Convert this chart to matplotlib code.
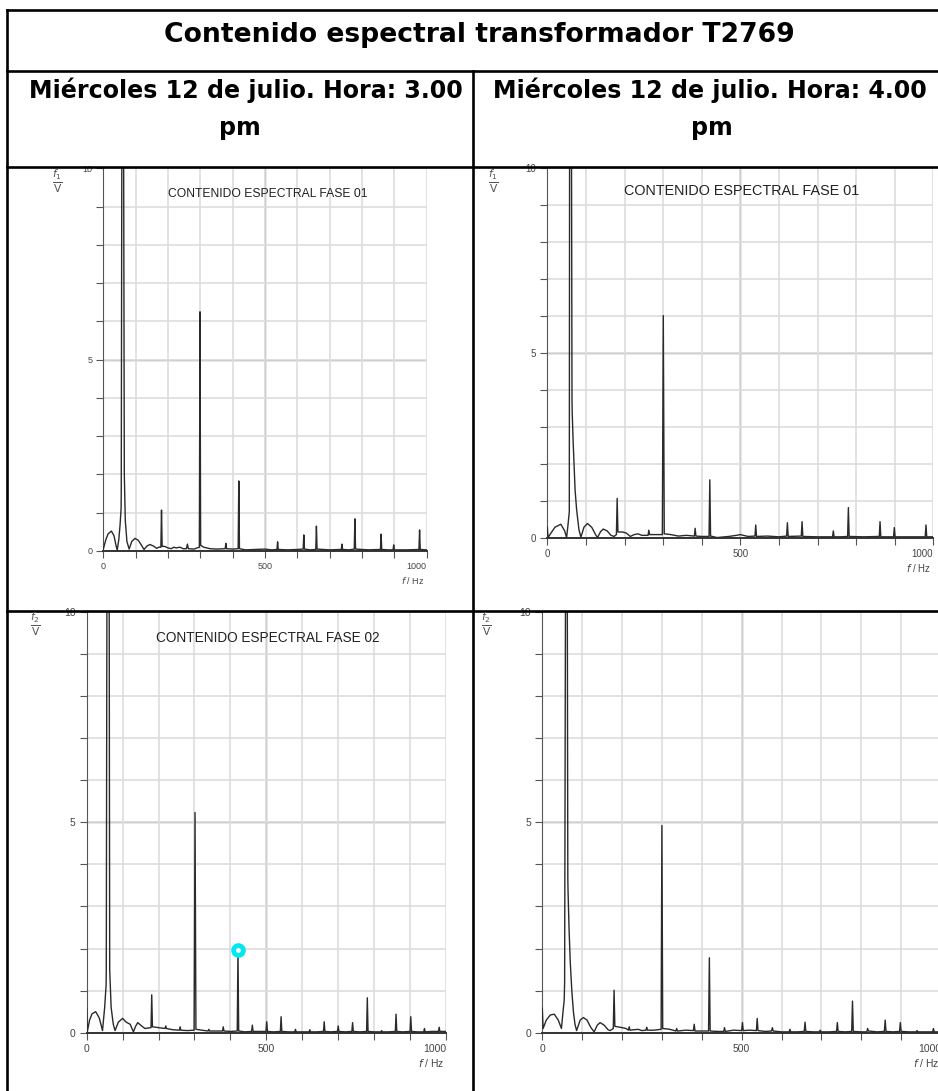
import matplotlib
matplotlib.use('Agg')
import matplotlib.pyplot as plt

#---------------------------------------------------------------------
# Contenido espectral T2769, tabla 2x2 de espectros (Fase 01 / Fase 02)
#---------------------------------------------------------------------

W, H = 938, 1091

titulo = 'Contenido espectral transformador T2769'
encabezados = ['Miércoles 12 de julio. Hora: 3.00', 'Miércoles 12 de julio. Hora: 4.00']
titulos_graf = ['CONTENIDO ESPECTRAL FASE 01', 'CONTENIDO ESPECTRAL FASE 01',
                'CONTENIDO ESPECTRAL FASE 02', '']
etiquetas_y = [r'$\frac{f_1}{\mathrm{V}}$', r'$\frac{f_1}{\mathrm{V}}$',
               r'$\frac{f_2}{\mathrm{V}}$', r'$\frac{f_2}{\mathrm{V}}$']

x_ticks = list(range(0, 1001, 100))
x_ticklabels = ['0', '', '', '', '', '500', '', '', '', '', '1000']
y_ticks = list(range(0, 11))
y_ticklabels = ['0', '', '', '', '', '5', '', '', '', '', '10']

### espectros: (f / Hz, amplitud / V)
fase01_3pm = [(0, 0.05), (8, 0.3), (15, 0.45), (25, 0.52), (33, 0.4), (40, 0.12), (43, 0.02),
              (48, 0.3), (52, 0.7), (55, 1.1), (55.5, 1.5), (58, 14), (62, 14), (65, 2.0),
              (68, 0.8), (73, 0.25), (80, 0.05), (88, 0.25), (98, 0.33), (108, 0.28),
              (118, 0.15), (126, 0.04), (135, 0.13), (144, 0.17), (155, 0.13), (165, 0.07),
              (172, 0.1), (178, 0.1), (180, 1.07), (182, 0.12), (190, 0.12), (200, 0.08),
              (210, 0.06), (218, 0.1), (225, 0.08), (237, 0.1), (247, 0.06), (257, 0.06),
              (260, 0.18), (263, 0.06), (280, 0.05), (297, 0.1), (299, 6.25), (301, 0.15),
              (310, 0.1), (330, 0.06), (350, 0.05), (377, 0.06), (379, 0.2), (381, 0.06),
              (400, 0.05), (417, 0.06), (419, 1.83), (421, 0.06), (440, 0.03), (470, 0.04),
              (500, 0.05), (520, 0.03), (537, 0.04), (539, 0.24), (541, 0.04), (570, 0.03),
              (600, 0.04), (618, 0.05), (620, 0.42), (622, 0.05), (640, 0.03), (657, 0.04),
              (659, 0.65), (661, 0.05), (700, 0.03), (736, 0.04), (738, 0.18), (740, 0.04),
              (760, 0.03), (776, 0.05), (778, 0.84), (780, 0.05), (820, 0.03), (857, 0.04),
              (859, 0.44), (861, 0.04), (880, 0.03), (896, 0.03), (898, 0.16), (900, 0.03),
              (940, 0.03), (976, 0.04), (978, 0.55), (980, 0.04), (1000, 0.03)]

fase01_4pm = [(0, 0.3), (2, 0.02), (10, 0.15), (20, 0.3), (35, 0.38), (45, 0.2), (50, 0.02),
              (54, 0.4), (57, 0.72), (58, 14), (62, 14), (64, 3.75), (64.5, 3.4), (67, 2.6),
              (72, 1.3), (76, 0.77), (82, 0.23), (87, 0.03), (95, 0.3), (104, 0.4), (115, 0.3),
              (125, 0.1), (130, 0.02), (138, 0.18), (145, 0.25), (155, 0.2), (165, 0.08),
              (173, 0.05), (179, 0.1), (181, 1.08), (183, 0.17), (195, 0.17), (205, 0.14),
              (215, 0.05), (225, 0.1), (235, 0.12), (245, 0.08), (261, 0.08), (263, 0.22),
              (265, 0.1), (280, 0.1), (298, 0.1), (300.5, 6.02), (303, 0.12), (320, 0.1),
              (340, 0.06), (360, 0.08), (381, 0.06), (383, 0.27), (385, 0.06), (400, 0.05),
              (419, 0.05), (421, 1.58), (423, 0.06), (440, 0.02), (470, 0.05), (490, 0.08),
              (500, 0.1), (520, 0.05), (538, 0.06), (540, 0.36), (542, 0.05), (570, 0.06),
              (600, 0.04), (620, 0.06), (622, 0.42), (624, 0.05), (658, 0.06), (660, 0.45),
              (662, 0.05), (700, 0.04), (739, 0.04), (741, 0.2), (743, 0.04), (760, 0.04),
              (778, 0.05), (780, 0.83), (782, 0.05), (820, 0.04), (860, 0.05), (862, 0.45),
              (864, 0.04), (897, 0.04), (899, 0.29), (901, 0.04), (940, 0.04), (979, 0.04),
              (981, 0.36), (983, 0.04), (1000, 0.04)]

fase02_3pm = [(0, 0.58), (1.5, 0.02), (8, 0.3), (15, 0.45), (25, 0.5), (35, 0.35), (44, 0.05),
              (50, 0.6), (54, 1.13), (54.5, 1.5), (57, 14), (62, 14), (64, 1.5), (68, 0.6),
              (74, 0.2), (79, 0.05), (88, 0.25), (100, 0.34), (110, 0.25), (121, 0.2),
              (130, 0.02), (136, 0.15), (142, 0.24), (150, 0.18), (162, 0.1), (179, 0.12),
              (181, 0.9), (183, 0.14), (200, 0.12), (218, 0.1), (220, 0.16), (222, 0.1),
              (240, 0.07), (258, 0.06), (260, 0.14), (262, 0.06), (280, 0.05), (299, 0.06),
              (301.5, 5.23), (304, 0.08), (320, 0.06), (338, 0.04), (340, 0.08), (342, 0.04),
              (360, 0.04), (378, 0.04), (380, 0.14), (382, 0.04), (400, 0.03), (419, 0.04),
              (421, 1.96), (423, 0.04), (440, 0.02), (459, 0.03), (461, 0.18), (463, 0.03),
              (480, 0.03), (499, 0.03), (501, 0.26), (503, 0.03), (520, 0.02), (539, 0.03),
              (541, 0.38), (543, 0.03), (560, 0.02), (579, 0.02), (581, 0.08), (583, 0.02),
              (600, 0.02), (619, 0.02), (621, 0.07), (623, 0.02), (640, 0.02), (659, 0.03),
              (661, 0.26), (663, 0.03), (680, 0.02), (698, 0.03), (700, 0.16), (702, 0.03),
              (720, 0.02), (738, 0.03), (740, 0.24), (742, 0.03), (760, 0.02), (779, 0.03),
              (781, 0.83), (783, 0.03), (800, 0.02), (819, 0.02), (821, 0.05), (823, 0.02),
              (840, 0.02), (859, 0.03), (861, 0.44), (863, 0.03), (880, 0.02), (900, 0.03),
              (902, 0.38), (904, 0.03), (920, 0.02), (938, 0.02), (940, 0.1), (942, 0.02),
              (960, 0.03), (979, 0.03), (981, 0.13), (983, 0.03), (1000, 0.03)]

fase02_4pm = [(0, 0.58), (2, 0.1), (10, 0.3), (20, 0.42), (30, 0.44), (40, 0.3), (48, 0.1),
              (52, 0.5), (55, 0.78), (56, 1.2), (59, 14), (62, 14), (64, 3.67), (64.5, 3.39),
              (67, 2.5), (70, 1.7), (74, 1.0), (78, 0.5), (82, 0.2), (86, 0.05), (95, 0.3),
              (103, 0.36), (112, 0.3), (122, 0.12), (130, 0.02), (138, 0.18), (145, 0.24),
              (155, 0.18), (165, 0.07), (170, 0.05), (178, 0.1), (180, 1.01), (182, 0.15),
              (195, 0.13), (210, 0.1), (216, 0.06), (218, 0.14), (220, 0.06), (240, 0.08),
              (250, 0.05), (260, 0.06), (262, 0.13), (264, 0.06), (280, 0.06), (298, 0.08),
              (300, 4.92), (302, 0.1), (320, 0.08), (335, 0.04), (337, 0.1), (339, 0.04),
              (360, 0.06), (379, 0.05), (381, 0.2), (383, 0.04), (400, 0.04), (417, 0.04),
              (419, 1.78), (421, 0.04), (440, 0.03), (455, 0.03), (457, 0.12), (459, 0.03),
              (480, 0.06), (500, 0.05), (502, 0.24), (504, 0.05), (520, 0.06), (537, 0.05),
              (539, 0.34), (541, 0.05), (560, 0.03), (575, 0.04), (577, 0.12), (579, 0.04),
              (600, 0.02), (619, 0.02), (621, 0.08), (623, 0.02), (640, 0.02), (657, 0.03),
              (659, 0.25), (661, 0.03), (680, 0.02), (695, 0.02), (697, 0.06), (699, 0.02),
              (720, 0.02), (738, 0.03), (740, 0.24), (742, 0.03), (760, 0.02), (776, 0.03),
              (778, 0.75), (780, 0.03), (800, 0.02), (814, 0.02), (816, 0.1), (818, 0.04),
              (840, 0.02), (858, 0.03), (860, 0.3), (862, 0.03), (880, 0.02), (896, 0.03),
              (898, 0.24), (900, 0.03), (920, 0.02), (938, 0.02), (940, 0.05), (942, 0.02),
              (960, 0.02), (979, 0.02), (981, 0.1), (983, 0.02), (1000, 0.02)]

espectros = [fase01_3pm, fase01_4pm, fase02_3pm, fase02_4pm]

# punto marcado (cian) en fase 02, 3 pm
marca_hz, marca_v = 421, 1.96

plt.rcParams['font.family'] = ['Liberation Sans', 'DejaVu Sans']

### cajas en pixeles: x(0 Hz), x(1000 Hz), y(10 V), y(0 V)
cajas = [(103.3, 426.7, 168.3, 551.0),
         (547.3, 933.3, 168.3, 538.3),
         (86.7, 446.0, 611.7, 1032.7),
         (542.3, 941.0, 611.7, 1032.7)]
pos_titulo = [(268, 194, 8.7), (742, 191, 10.4), (268, 638, 9.8), (0, 0, 9)]
pos_ylab = [(57, 181), (493, 181), (35, 624), (486, 624)]
tam_ticks = [6.5, 7, 7.5, 7.5]

fig = plt.figure(figsize=(W / 100, H / 100), dpi=100, facecolor='white')


def fx(x): return x / W


def fy(y): return 1 - y / H


for i, datos in enumerate(espectros):
    x0, x1, ytop, ybot = cajas[i]
    ax = fig.add_axes([fx(x0), fy(ybot), fx(x1) - fx(x0), fy(ytop) - fy(ybot)])
    ax.set_xlim(0, 1000)
    ax.set_ylim(0, 10)
    ax.set_xticks(x_ticks)
    ax.set_xticklabels(x_ticklabels)
    ax.set_yticks(y_ticks)
    ax.set_yticklabels(y_ticklabels)
    ax.get_xticklabels()[-1].set_ha('right')
    ax.tick_params(direction='out', length=5, width=0.8, color='#555555',
                   labelsize=tam_ticks[i], labelcolor='#444444', pad=3)
    ax.grid(True, color='#dddddd', lw=1.2, zorder=0)
    ax.axvline(500, color='#8a8a8a', lw=1.0, zorder=1)
    ax.axhline(5, color='#8a8a8a', lw=1.0, zorder=1)
    for lado in ['top', 'right']:
        ax.spines[lado].set_visible(False)
    ax.spines['left'].set_color('#555555')
    ax.spines['bottom'].set_color('#333333')
    ax.spines['bottom'].set_linewidth(1.4)

    hz = [p[0] for p in datos]
    volt = [p[1] for p in datos]
    ax.plot(hz, volt, color='#2a2a2a', lw=1.0, zorder=3)
    if i == 2:
        ax.plot([marca_hz], [marca_v], 'o', ms=9.5, color='#00e8f0', mec='#00e8f0', zorder=4)
        ax.plot([marca_hz], [marca_v], 'o', ms=2.5, color='white', mec='white', zorder=5)

### capa de la tabla y textos, en pixeles
ov = fig.add_axes([0, 0, 1, 1], zorder=10)
ov.set_xlim(0, W)
ov.set_ylim(H, 0)
ov.axis('off')
ov.patch.set_alpha(0)

lw_t = 1.9
ov.plot([7, W], [10, 10], color='black', lw=lw_t)
ov.plot([7, 7], [10, H], color='black', lw=lw_t)
ov.plot([7, W], [71, 71], color='black', lw=lw_t)
ov.plot([7, W], [167, 167], color='black', lw=lw_t)
ov.plot([7, W], [610.5, 610.5], color='black', lw=lw_t)
ov.plot([473, 473], [71, H], color='black', lw=lw_t)

# la tabla original se ve algo ensanchada: DejaVu Sans negrita se le parece mas
cab = dict(family='DejaVu Sans', fontweight='bold', ha='center', va='baseline')
ov.text(479, 42, titulo, fontsize=19.2, **cab)
ov.text(246, 98, encabezados[0], fontsize=17.1, **cab)
ov.text(240, 135, 'pm', fontsize=17.1, **cab)
ov.text(710, 98, encabezados[1], fontsize=17.1, **cab)
ov.text(712, 135, 'pm', fontsize=17.1, **cab)

for i in range(4):
    x0, x1, ytop, ybot = cajas[i]
    tx, ty, ts = pos_titulo[i]
    if titulos_graf[i]:
        ov.text(tx, ty, titulos_graf[i], ha='center', va='center', fontsize=ts, color='#222222')
    lx, ly = pos_ylab[i]
    ov.text(lx, ly, etiquetas_y[i], ha='center', va='center', fontsize=11, color='#555555')
    ov.text(x1 - 2, ybot + 30, r'$f$ / Hz', ha='right', va='center',
            fontsize=tam_ticks[i], color='#444444')

plt.savefig('out.png', dpi=100, facecolor='white')
